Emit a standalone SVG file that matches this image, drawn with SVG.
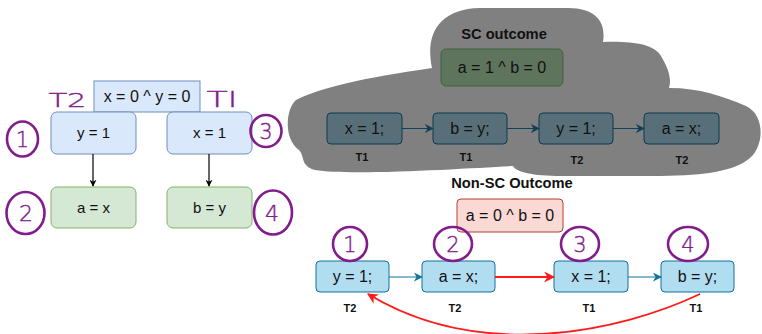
<svg xmlns="http://www.w3.org/2000/svg" width="762" height="334" viewBox="0 0 762 334">
  <defs>
    <style>
      .lbl { font-family: "Liberation Sans", Arial, sans-serif; font-size: 16px; fill: #111; text-anchor: middle; }
      .sm { font-size: 15px; }
      .tid { font-family: "Liberation Sans", Arial, sans-serif; font-size: 11px; font-weight: bold; fill: #111; text-anchor: middle; }
      .hdr { font-family: "Liberation Sans", Arial, sans-serif; font-size: 14.7px; font-weight: bold; fill: #111; text-anchor: middle; }
      .blue { fill: #dae8fc; stroke: #6c8ebf; stroke-width: 1; }
      .green { fill: #d5e8d4; stroke: #82b366; stroke-width: 1; }
      .cyan { fill: #b1ddf0; stroke: #10739e; stroke-width: 1; }
      .dcyan { fill: #586f79; stroke: #0b3b50; stroke-width: 1; }
      .dgreen { fill: #5f745d; stroke: #41603a; stroke-width: 1; }
      .red { fill: #fad9d5; stroke: #ae4132; stroke-width: 1; }
      .ink { fill: none; stroke: #821c8c; stroke-width: 2.6; }
      .inkt { font-family: "DejaVu Sans", sans-serif; font-weight: 300; fill: #821c8c; stroke: #821c8c; stroke-width: 0.4; text-anchor: middle; }
    </style>
    <marker id="ahBlack" viewBox="0 0 10 10" refX="9" refY="5" markerWidth="7" markerHeight="7" orient="auto" markerUnits="userSpaceOnUse">
      <path d="M0,0 L10,5 L0,10 L3,5 Z" fill="#000"/>
    </marker>
    <marker id="ahBlue" viewBox="0 0 10 10" refX="9" refY="5" markerWidth="9" markerHeight="9" orient="auto" markerUnits="userSpaceOnUse">
      <path d="M0,0 L10,5 L0,10 L3,5 Z" fill="#10739e"/>
    </marker>
    <marker id="ahDark" viewBox="0 0 10 10" refX="9" refY="5" markerWidth="9" markerHeight="9" orient="auto" markerUnits="userSpaceOnUse">
      <path d="M0,0 L10,5 L0,10 L3,5 Z" fill="#0d4259"/>
    </marker>
    <marker id="ahRed" viewBox="0 0 10 10" refX="9" refY="5" markerWidth="11" markerHeight="11" orient="auto" markerUnits="userSpaceOnUse">
      <path d="M0,0 L10,5 L0,10 L3,5 Z" fill="#ff1a1a"/>
    </marker>
  </defs>

  <rect width="762" height="334" fill="#ffffff"/>

  <!-- left: initial state and the two threads -->
  <g id="init">
    <rect class="blue" x="94" y="81" width="106" height="31"/>
    <text class="lbl" x="147" y="102">x = 0 ^ y = 0</text>
  </g>
  <g id="t2-store">
    <rect class="blue" x="51" y="112" width="85" height="42" rx="6"/>
    <text class="lbl sm" x="93.5" y="138">y = 1</text>
  </g>
  <g id="t1-store">
    <rect class="blue" x="167" y="112" width="85" height="42" rx="6"/>
    <text class="lbl sm" x="209.5" y="138">x = 1</text>
  </g>
  <g id="t2-load">
    <rect class="green" x="51" y="187" width="85" height="41" rx="6"/>
    <text class="lbl sm" x="93.5" y="213">a = x</text>
  </g>
  <g id="t1-load">
    <rect class="green" x="167" y="187" width="85" height="41" rx="6"/>
    <text class="lbl sm" x="209.5" y="213">b = y</text>
  </g>

  <!-- SC outcome cloud -->
  <g id="sc-cloud">
    <path d="M432,68 C425,35 438,9 480,8 L568,8 C598,8 606,24 603,42 C632,41 654,44 661,56 C668,68 672,78 669,88 C700,88 722,96 746,106 C766,115 765,150 746,161 C730,172 700,176 652,176 L562,176 C532,176 516,172 513,166 C470,168 352,176 315,170 C300,166 305,156 299,150 C284,140 285,110 296,100 C320,88 362,78 432,68 Z" fill="#808080"/>
    <text class="hdr" x="504" y="39">SC outcome</text>
  </g>
  <g id="sc-result">
    <rect class="dgreen" x="441" y="49" width="122" height="37" rx="5"/>
    <text class="lbl" x="502" y="73">a = 1 ^ b = 0</text>
  </g>
  <g id="sc-1">
    <rect class="dcyan" x="327" y="113" width="75" height="31" rx="4"/>
    <text class="lbl" x="364.5" y="134">x = 1;</text>
    <text class="tid" x="362" y="161">T1</text>
  </g>
  <g id="sc-2">
    <rect class="dcyan" x="433" y="113" width="74" height="31" rx="4"/>
    <text class="lbl" x="470" y="134">b = y;</text>
    <text class="tid" x="466" y="161">T1</text>
  </g>
  <g id="sc-3">
    <rect class="dcyan" x="539" y="113" width="74" height="31" rx="4"/>
    <text class="lbl" x="576" y="134">y = 1;</text>
    <text class="tid" x="577" y="164">T2</text>
  </g>
  <g id="sc-4">
    <rect class="dcyan" x="644" y="113" width="75" height="31" rx="4"/>
    <text class="lbl" x="681.5" y="134">a = x;</text>
    <text class="tid" x="682" y="164">T2</text>
  </g>

  <!-- non-SC outcome -->
  <g id="nonsc-title">
    <text class="hdr" x="512" y="188">Non-SC Outcome</text>
  </g>
  <g id="nonsc-result">
    <rect class="red" x="457" y="199" width="106" height="33" rx="4"/>
    <text class="lbl" x="510" y="221">a = 0 ^ b = 0</text>
  </g>
  <g id="ns-1">
    <rect class="cyan" x="316" y="261" width="73" height="31" rx="4"/>
    <text class="lbl" x="352.5" y="282">y = 1;</text>
    <text class="tid" x="350" y="312">T2</text>
  </g>
  <g id="ns-2">
    <rect class="cyan" x="422" y="261" width="73" height="31" rx="4"/>
    <text class="lbl" x="458.5" y="282">a = x;</text>
    <text class="tid" x="455" y="312">T2</text>
  </g>
  <g id="ns-3">
    <rect class="cyan" x="554" y="261" width="74" height="31" rx="4"/>
    <text class="lbl" x="591" y="282">x = 1;</text>
    <text class="tid" x="589" y="312">T1</text>
  </g>
  <g id="ns-4">
    <rect class="cyan" x="661" y="261" width="73" height="31" rx="4"/>
    <text class="lbl" x="697.5" y="282">b = y;</text>
    <text class="tid" x="696" y="312">T1</text>
  </g>

  <!-- connectors -->
  <g id="connectors" fill="none">
    <line x1="93" y1="154" x2="93" y2="186" stroke="#000" stroke-width="1.2" marker-end="url(#ahBlack)"/>
    <line x1="209" y1="154" x2="209" y2="186" stroke="#000" stroke-width="1.2" marker-end="url(#ahBlack)"/>
    <line x1="402" y1="128.5" x2="433" y2="128.5" stroke="#0d4259" stroke-width="1" marker-end="url(#ahDark)"/>
    <line x1="507" y1="128.5" x2="539" y2="128.5" stroke="#0d4259" stroke-width="1" marker-end="url(#ahDark)"/>
    <line x1="613" y1="128.5" x2="644" y2="128.5" stroke="#0d4259" stroke-width="1" marker-end="url(#ahDark)"/>
    <line x1="389" y1="277" x2="422" y2="277" stroke="#10739e" stroke-width="1" marker-end="url(#ahBlue)"/>
    <line x1="495" y1="277" x2="554" y2="277" stroke="#ff1a1a" stroke-width="2.2" marker-end="url(#ahRed)"/>
    <line x1="628" y1="277" x2="661" y2="277" stroke="#10739e" stroke-width="1" marker-end="url(#ahBlue)"/>
    <path d="M700,294 C620,332 480,362 368,294" stroke="#ff1a1a" stroke-width="1.8" marker-end="url(#ahRed)"/>
  </g>

  <!-- handwritten annotations -->
  <g id="notes">
    <text class="inkt" x="67.5" y="107" font-size="20" textLength="38" lengthAdjust="spacingAndGlyphs">T2</text>
    <text class="inkt" x="222" y="107" font-size="22" textLength="31" lengthAdjust="spacingAndGlyphs">Tl</text>
    <ellipse class="ink" cx="22.5" cy="139" rx="15.5" ry="17.5"/>
    <text class="inkt" x="22.5" y="147" font-size="21">1</text>
    <ellipse class="ink" cx="266" cy="131" rx="15.5" ry="16"/>
    <text class="inkt" x="266" y="139" font-size="21">3</text>
    <ellipse class="ink" cx="25.5" cy="213" rx="19" ry="21"/>
    <text class="inkt" x="26" y="221" font-size="22">2</text>
    <ellipse class="ink" cx="273" cy="212.5" rx="19" ry="22"/>
    <text class="inkt" x="272" y="221" font-size="22">4</text>
    <ellipse class="ink" cx="350" cy="244" rx="17" ry="17"/>
    <text class="inkt" x="350" y="252" font-size="21">1</text>
    <ellipse class="ink" cx="453" cy="244" rx="19" ry="17"/>
    <text class="inkt" x="453" y="252" font-size="21">2</text>
    <ellipse class="ink" cx="580" cy="244" rx="19" ry="17"/>
    <text class="inkt" x="580" y="252" font-size="21">3</text>
    <ellipse class="ink" cx="688" cy="244" rx="20" ry="17"/>
    <text class="inkt" x="688" y="252" font-size="21">4</text>
  </g>
</svg>
